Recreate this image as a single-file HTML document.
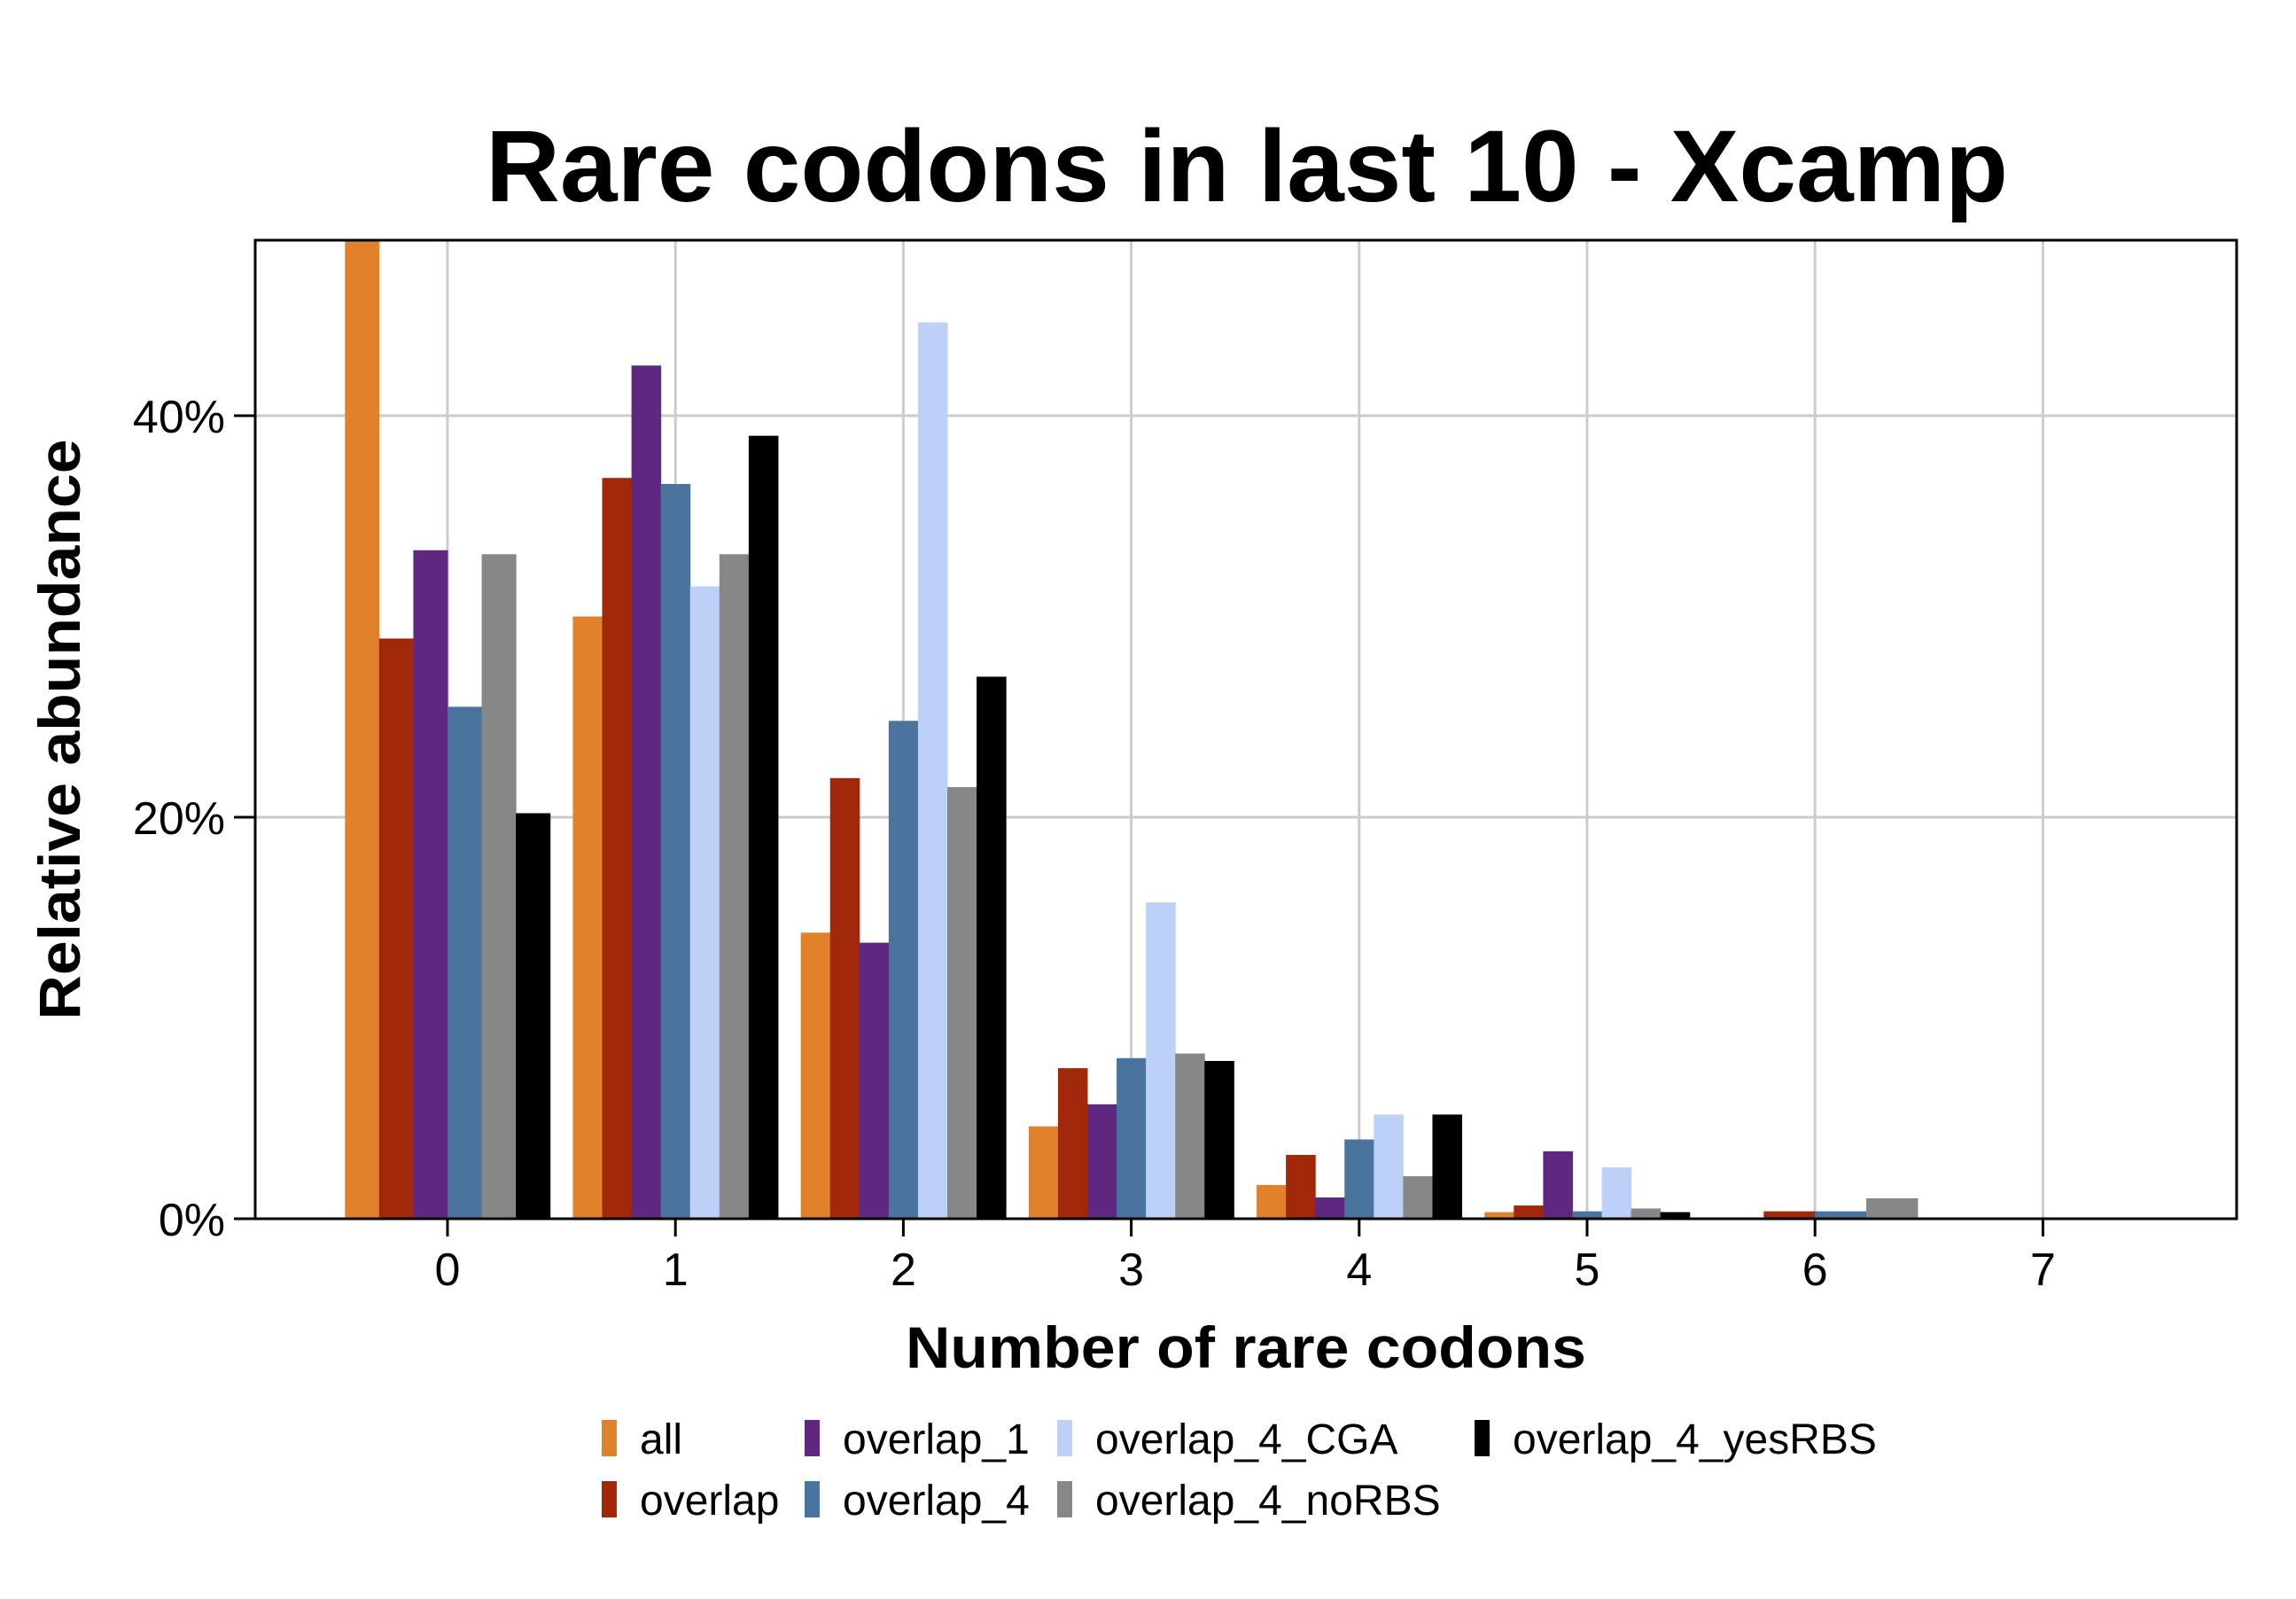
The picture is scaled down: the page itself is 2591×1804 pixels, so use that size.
<!DOCTYPE html>
<html><head><meta charset="utf-8"><style>
html,body{margin:0;padding:0;background:#fff}
svg{display:block;font-family:"Liberation Sans",Arial,sans-serif}
</style></head><body>
<svg id="chart" width="2591" height="1804" viewBox="0 0 2591 1804" xmlns="http://www.w3.org/2000/svg">
<rect width="2591" height="1804" fill="#fff"/>
<text x="1407" y="227" text-anchor="middle" font-size="115" font-weight="bold" textLength="1718" lengthAdjust="spacingAndGlyphs">Rare codons in last 10 - Xcamp</text>
<g id="grid"></g>
<g id="bars"></g>
<rect x="288" y="271" width="2236" height="1104" fill="none" stroke="#000" stroke-width="3"/>
<g id="axes"></g>
<text x="1406" y="1543" text-anchor="middle" font-size="66" font-weight="bold" textLength="768" lengthAdjust="spacingAndGlyphs">Number of rare codons</text>
<text transform="translate(90,823) rotate(-90)" text-anchor="middle" font-size="66" font-weight="bold" textLength="655" lengthAdjust="spacingAndGlyphs">Relative abundance</text>
<g id="legend"></g>
</svg>
<script>
const seriesNames = ["all","overlap","overlap_1","overlap_4","overlap_4_CGA","overlap_4_noRBS","overlap_4_yesRBS"];
const seriesColors = ["#E2812B","#A2280B","#5F2780","#4A749E","#BDD0F8","#878787","#000000"];
const categories = [0,1,2,3,4,5,6,7];
const cat0 = [[0,50],[1,28.9],[2,33.3],[3,25.5],[5,33.1],[6,20.2]];
const cat1 = [[0,30.0],[1,36.9],[2,42.5],[3,36.6],[4,31.5],[5,33.1],[6,39.0]];
const cat2 = [[0,14.25],[1,21.95],[2,13.75],[3,24.8],[4,44.65],[5,21.5],[6,27.0]];
const cat3 = [[0,4.6],[1,7.5],[2,5.7],[3,8.0],[4,15.76],[5,8.23],[6,7.86]];
const cat4 = [[0,1.68],[1,3.18],[2,1.06],[3,3.95],[4,5.19],[5,2.12],[6,5.19]];
const cat5 = [[0,0.33],[1,0.66],[2,3.36],[3,0.37],[4,2.56],[5,0.51],[6,0.33]];
const cat6 = [[0,0],[1,0.37],[3,0.37],[5,1.02]];
const cat7 = [[0,0]];
const catValues = [cat0,cat1,cat2,cat3,cat4,cat5,cat6,cat7];
const yTicks = [0,20,40];
const yTickLabels = ["0%","20%","40%"];

const NS="http://www.w3.org/2000/svg";
const X0=505, XU=257.2, Y0=1375, YU=22.65, TOP=271, LEFT=288, RIGHT=2524;
const xs=v=>X0+v*XU, ys=v=>Y0-v*YU;
function mk(tag,attrs,parent){const e=document.createElementNS(NS,tag);for(const k in attrs)e.setAttribute(k,attrs[k]);parent.appendChild(e);return e;}
const grid=document.getElementById('grid'),bars=document.getElementById('bars'),axes=document.getElementById('axes'),legend=document.getElementById('legend');
yTicks.forEach((t,i)=>{
  const g=mk('line',{x1:LEFT,x2:RIGHT,y1:ys(t),y2:ys(t),stroke:'#cccccc','stroke-width':3},grid);
  
  
  const tk=mk('line',{x1:264,x2:LEFT,y1:ys(t),y2:ys(t),stroke:'#000','stroke-width':3},axes);
  
  
  const lb=mk('text',{x:254,y:ys(t)+19,'text-anchor':'end','font-size':52},axes);
  lb.textContent=yTickLabels[i];
  
  
});
categories.forEach(c=>{
  const g=mk('line',{x1:xs(c),x2:xs(c),y1:TOP,y2:Y0,stroke:'#cccccc','stroke-width':3},grid);
  
  
  const tk=mk('line',{x1:xs(c),x2:xs(c),y1:Y0,y2:Y0+20,stroke:'#000','stroke-width':3},axes);
  
  
  const lb=mk('text',{x:xs(c),y:1450,'text-anchor':'middle','font-size':52},axes);
  lb.textContent=String(c);
  
  
});
catValues.forEach((list,ci)=>{
  const n=list.length, total=0.9*XU, w=total/n, start=xs(categories[ci])-total/2;
  list.forEach(([si,v],j)=>{
    const top=Math.max(ys(v),TOP);
    const r=mk('rect',{x:start+j*w,y:top,width:w+0.5,height:Math.max(Y0-top,0),fill:seriesColors[si]},bars);
    
    
  });
});
const legPos=[[679,1602],[679,1671],[908,1602],[908,1671],[1193,1602],[1193,1671],[1664,1602]];
seriesNames.forEach((s,i)=>{
  const [lx,ly]=legPos[i];
  const k=mk('rect',{x:lx,y:ly,width:17,height:41,fill:seriesColors[i]},legend);
  
  
  const t=mk('text',{x:lx+43,y:ly+38,'font-size':48},legend);
  t.textContent=s;
  
  
});
</script>
</body></html>
